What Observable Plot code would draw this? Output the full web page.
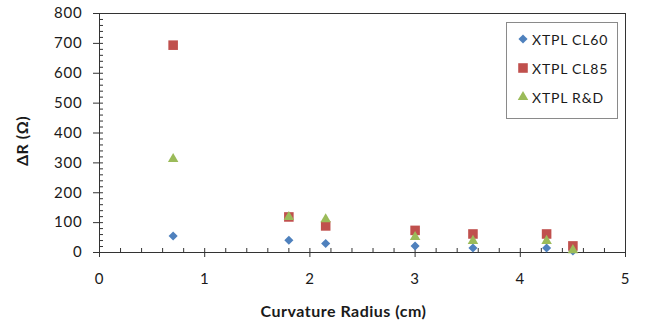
<!DOCTYPE html>
<html><head><meta charset="utf-8">
<script src="https://cdn.jsdelivr.net/npm/d3@7"></script>
<script src="https://cdn.jsdelivr.net/npm/@observablehq/plot@0.6"></script>
<style>
body{margin:0;background:#fff;}
#wrap{position:relative;width:647px;height:322px;font-family:Lato,sans-serif;}
#legend{position:absolute;left:506px;top:22px;width:112px;height:97px;border:1px solid #8a8a8a;box-sizing:border-box;background:#fff;}
.row{position:absolute;left:8px;height:18px;display:flex;align-items:center;font-size:14px;color:#1a1a1a;letter-spacing:0.8px;white-space:nowrap;}
.row svg{margin-right:1px;}
svg g[aria-label="y-axis tick label"] text, svg g[aria-label="x-axis tick label"] text {letter-spacing:0.8px;}
svg g[aria-label="y-axis label"] text, svg g[aria-label="x-axis label"] text {font-weight:bold;font-size:16px;letter-spacing:0.5px;}
</style></head>
<body><div id="wrap"></div>
<script>
const seriesNames = ["XTPL CL60", "XTPL CL85", "XTPL R&D"];
const radius = [0.7, 1.8, 2.15, 3, 3.55, 4.25, 4.5];
const cl60 = [55, 41, 30, 22, 15, 15, 5];
const cl85 = [694, 119, 89, 74, 62, 62, 22];
const rnd = [313, 119, 111, 52, 39, 39, 8];
const xTicks = [0, 1, 2, 3, 4, 5];
const yTicks = [0, 100, 200, 300, 400, 500, 600, 700, 800];
const xMinorTicks = [0.2, 0.4, 0.6, 0.8, 1.2, 1.4, 1.6, 1.8, 2.2, 2.4, 2.6, 2.8, 3.2, 3.4, 3.6, 3.8, 4.2, 4.4, 4.6, 4.8];
const yMinorTicks = d3.range(0, 801, 20);
const colors = ["#4F81BD", "#C0504D", "#9BBB59"];
const symbols = ["diamond2", "square", "triangle"];
const radii = [4.1, 5.4, 3.9];

const values = [cl60, cl85, rnd];
const data = values.map((vals, s) => radius.map((r, i) => ({x: r, y: vals[i], s})));

const axisColor = "#333";
const plot = Plot.plot({
  width: 647, height: 322,
  marginLeft: 99, marginRight: 22, marginTop: 13, marginBottom: 70,
  style: {fontFamily: "Lato, sans-serif", fontSize: "15px", color: "#1a1a1a", background: "#fff"},
  x: {domain: [0, 5]},
  y: {domain: [0, 800]},
  marks: [
    Plot.ruleY([800], {stroke: axisColor}),
    Plot.ruleX([5], {stroke: axisColor}),
    Plot.ruleY([0], {stroke: axisColor}),
    Plot.ruleX([0], {stroke: axisColor}),
    Plot.axisY({ticks: yMinorTicks, tickSize: 4, dx: 4, text: null, label: null, stroke: axisColor}),
    Plot.axisY({ticks: yTicks, tickSize: 6, tickPadding: 11, stroke: axisColor, tickFormat: d => String(d),
      label: "ΔR (Ω)", labelAnchor: "center", labelOffset: 83, labelArrow: "none"}),
    Plot.axisX({ticks: xMinorTicks, tickSize: 4, dy: -4, text: null, label: null, stroke: axisColor}),
    Plot.axisX({ticks: xTicks, tickSize: 9, dy: -4, text: null, label: null, stroke: axisColor}),
    Plot.axisX({ticks: xTicks, tickSize: 0, tickPadding: 21, tickFormat: d => String(d),
      label: "Curvature Radius (cm)", labelAnchor: "center", labelOffset: 64, labelArrow: "none"}),
    ...data.map((d, s) => Plot.dot(d, {x: "x", y: "y", symbol: () => symbols[s], fill: colors[s], r: radii[s], stroke: "none"}))
  ]
});
const wrap = document.getElementById("wrap");
wrap.appendChild(plot);
const yl = plot.querySelector('g[aria-label="y-axis label"]');
if (yl) yl.setAttribute("transform", ((yl.getAttribute("transform") || "") + " translate(0,8)").trim());
const xl = plot.querySelector('g[aria-label="x-axis label"]');
if (xl) xl.setAttribute("transform", ((xl.getAttribute("transform") || "") + " translate(-19,0)").trim());

const legend = document.createElement("div");
legend.id = "legend";
seriesNames.forEach((name, s) => {
  const row = document.createElement("div");
  row.className = "row";
  row.style.top = (7 + s * 29) + "px";
  const sym = {diamond2: d3.symbolDiamond2, square: d3.symbolSquare, triangle: d3.symbolTriangle}[symbols[s]];
  const path = d3.symbol(sym, Math.PI * radii[s] * radii[s])();
  row.innerHTML = `<svg width="16" height="16" viewBox="-8 -8 16 16"><path d="${path}" fill="${colors[s]}"/></svg><span></span>`;
  row.querySelector("span").textContent = name;
  legend.appendChild(row);
});
wrap.appendChild(legend);
</script>
</body></html>
